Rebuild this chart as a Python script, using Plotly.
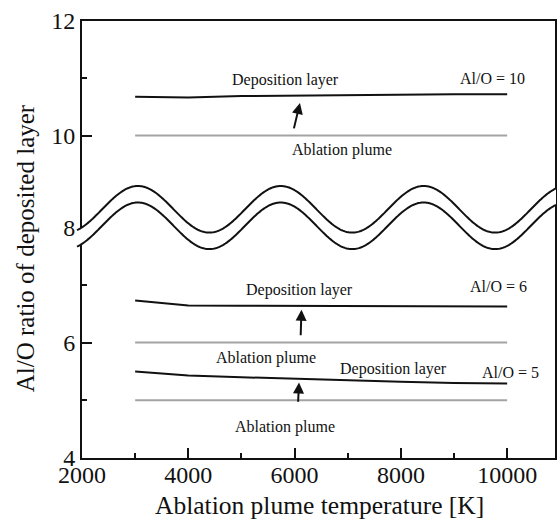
import numpy as np
import plotly.graph_objects as go

# ---------------- data ----------------
temps = [3000, 4000, 5000, 6000, 7000, 8000, 9000, 10000]

dep_10 = [10.68, 10.665, 10.69, 10.70, 10.71, 10.715, 10.72, 10.72]
plume_10 = [10, 10, 10, 10, 10, 10, 10, 10]

dep_6 = [6.73, 6.645, 6.64, 6.635, 6.63, 6.63, 6.625, 6.625]
plume_6 = [6, 6, 6, 6, 6, 6, 6, 6]

dep_5 = [5.50, 5.43, 5.40, 5.37, 5.34, 5.32, 5.30, 5.29]
plume_5 = [5, 5, 5, 5, 5, 5, 5, 5]

x_ticks = [2000, 4000, 6000, 8000, 10000]
x_ticklabels = ["2000", "4000", "6000", "8000", "10000"]
x_minor = [3000, 5000, 7000, 9000]
y_hi_ticks = [10, 12]
y_hi_minor = [11]
y_lo_ticks = [4, 6, 8]
y_lo_minor = [5, 7]

FONT = "Liberation Serif, Times New Roman, serif"
BLACK = "#111111"
GRAY = "#a3a3a3"

# pixel geometry of the plot frame
W, H = 558, 522
L, R, T, B = 82, 1, 21, 64
PW = W - L - R
PH = H - T - B
def px2paper_x(px):
    return (np.asarray(px) - L) / PW
def px2paper_y(py):
    return (H - B - np.asarray(py)) / PH

fig = go.Figure()

# upper panel (x, y)
fig.add_trace(go.Scatter(x=temps, y=plume_10, mode="lines", line=dict(color=GRAY, width=2),
                         xaxis="x", yaxis="y", showlegend=False))
fig.add_trace(go.Scatter(x=temps, y=dep_10, mode="lines", line=dict(color=BLACK, width=2),
                         xaxis="x", yaxis="y", showlegend=False))
# lower panel (x2, y2)
for ys, col in [(plume_6, GRAY), (dep_6, BLACK), (plume_5, GRAY), (dep_5, BLACK)]:
    fig.add_trace(go.Scatter(x=temps, y=ys, mode="lines", line=dict(color=col, width=2),
                             xaxis="x2", yaxis="y2", showlegend=False))

upper_dom = [float(px2paper_y(250)), 1.0]
lower_dom = [0.0, float(px2paper_y(185))]
upper_range = [12 - (250 - T) / 57.3, 12]
lower_range = [4, 4 + (H - B - 185) / 57.7]

tickfont = dict(family=FONT, size=24, color=BLACK)

fig.update_layout(
    width=W, height=H,
    margin=dict(l=L, r=R, t=T, b=B),
    font=dict(family=FONT, color=BLACK),
    paper_bgcolor="white", plot_bgcolor="white",
    xaxis=dict(anchor="y", side="top", range=[2000, 10900], showline=True, linecolor=BLACK,
               linewidth=2, ticks="", showticklabels=False, showgrid=False, zeroline=False),
    xaxis2=dict(anchor="y2", range=[2000, 10900], matches="x", showline=True, linecolor=BLACK,
                linewidth=2, ticks="inside", ticklen=10, tickwidth=2, tickcolor=BLACK,
                tickmode="array", tickvals=x_ticks, ticktext=x_ticklabels, tickfont=tickfont,
                ticklabelstandoff=-6,
                minor=dict(tickmode="array", tickvals=x_minor, ticks="inside", ticklen=5,
                           tickwidth=2, tickcolor=BLACK),
                showgrid=False, zeroline=False),
    yaxis=dict(domain=upper_dom, range=upper_range, anchor="x", showline=True, mirror=True,
               linecolor=BLACK, linewidth=2, ticks="inside", ticklen=10, tickwidth=2,
               tickcolor=BLACK, tickmode="array", tickvals=y_hi_ticks, tickfont=tickfont,
               minor=dict(tickmode="array", tickvals=y_hi_minor, ticks="inside", ticklen=5,
                          tickwidth=2, tickcolor=BLACK),
               showgrid=False, zeroline=False),
    yaxis2=dict(domain=lower_dom, range=lower_range, anchor="x2", showline=True, mirror=True,
                linecolor=BLACK, linewidth=2, ticks="inside", ticklen=10, tickwidth=2,
                tickcolor=BLACK, tickmode="array", tickvals=y_lo_ticks, tickfont=tickfont,
                minor=dict(tickmode="array", tickvals=y_lo_minor, ticks="inside", ticklen=5,
                           tickwidth=2, tickcolor=BLACK),
                showgrid=False, zeroline=False),
)

# ---------------- axis-break wave (decoration) ----------------
wx = np.arange(77, 559, 1.0)
wy_up = 209.3 - 23.3 * np.cos(2 * np.pi * (wx - 138.1) / 143.5)
wy_lo = wy_up + 16.5
xp = px2paper_x(wx)
yu = px2paper_y(wy_up)
yl = px2paper_y(wy_lo)

def path_from(xs, ys):
    return "M " + " L ".join(f"{a:.5f},{b:.5f}" for a, b in zip(xs, ys))

band = path_from(np.concatenate([xp, xp[::-1]]), np.concatenate([yu, yl[::-1]])) + " Z"
fig.add_shape(type="path", path=band, xref="paper", yref="paper", fillcolor="white",
              line=dict(width=0), layer="above")
fig.add_shape(type="path", path=path_from(xp, yu), xref="paper", yref="paper",
              line=dict(color=BLACK, width=2), layer="above")
fig.add_shape(type="path", path=path_from(xp, yl), xref="paper", yref="paper",
              line=dict(color=BLACK, width=2), layer="above")

# ---------------- text labels ----------------
lab_font = dict(family=FONT, size=16, color=BLACK)
labels = [
    ("x", "y", 5820, 10.97, "Deposition layer"),
    ("x", "y", 9715, 11.00, "Al/O = 10"),
    ("x", "y", 6890, 9.75, "Ablation plume"),
    ("x2", "y2", 6100, 6.91, "Deposition layer"),
    ("x2", "y2", 9846, 6.97, "Al/O = 6"),
    ("x2", "y2", 5464, 5.73, "Ablation plume"),
    ("x2", "y2", 7861, 5.55, "Deposition layer"),
    ("x2", "y2", 10064, 5.48, "Al/O = 5"),
    ("x2", "y2", 5820, 4.53, "Ablation plume"),
]
for xr, yr, x, y, t in labels:
    fig.add_annotation(x=x, y=y, xref=xr, yref=yr, text=t, showarrow=False, font=lab_font,
                       xanchor="center", yanchor="middle")

# arrows: (xref, yref, tail_x, tail_y, head_x, head_y)
arrows = [
    ("x", "y", 5981, 10.10, 6101, 10.57),
    ("x2", "y2", 6114, 6.10, 6130, 6.57),
    ("x2", "y2", 6065, 4.95, 6084, 5.31),
]
for xr, yr, tx, ty, hx, hy in arrows:
    fig.add_annotation(x=hx, y=hy, ax=tx, ay=ty, xref=xr, yref=yr, axref=xr, ayref=yr,
                       text="", showarrow=True, arrowhead=2, arrowsize=1.1, arrowwidth=2,
                       arrowcolor=BLACK, standoff=0, startstandoff=0)

# axis titles
fig.add_annotation(x=float(px2paper_x(25)), y=float(px2paper_y(248)), xref="paper", yref="paper",
                   text="Al/O ratio of deposited layer", textangle=-90, showarrow=False,
                   xanchor="center", yanchor="middle",
                   font=dict(family=FONT, size=25, color=BLACK))
fig.add_annotation(x=float(px2paper_x(321)), y=float(px2paper_y(505)), xref="paper", yref="paper",
                   text="Ablation plume temperature [K]", showarrow=False,
                   xanchor="center", yanchor="middle",
                   font=dict(family=FONT, size=25.5, color=BLACK))

fig.write_html("out.html")
